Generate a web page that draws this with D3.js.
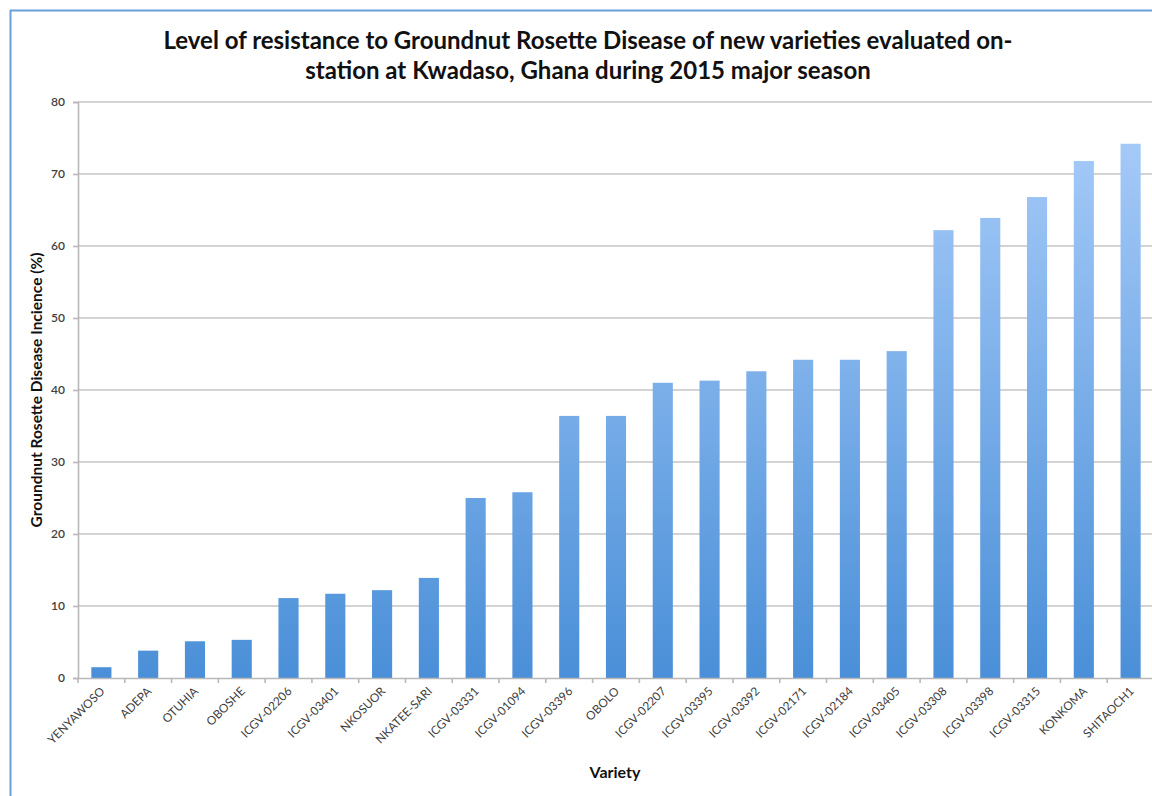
<!DOCTYPE html>
<html>
<head>
<meta charset="utf-8">
<script src="https://cdn.jsdelivr.net/npm/d3@7"></script>
<style>
  html, body { margin: 0; padding: 0; background: #fff; }
  svg { display: block; }
</style>
</head>
<body>
<svg id="chart" width="1152" height="796"></svg>
<script>
const categories = ["YENYAWOSO", "ADEPA", "OTUHIA", "OBOSHE", "ICGV-02206", "ICGV-03401", "NKOSUOR", "NKATEE-SARI",
  "ICGV-03331", "ICGV-01094", "ICGV-03396", "OBOLO", "ICGV-02207", "ICGV-03395", "ICGV-03392", "ICGV-02171",
  "ICGV-02184", "ICGV-03405", "ICGV-03308", "ICGV-03398", "ICGV-03315", "KONKOMA", "SHITAOCH1"];
const incidence = [1.5, 3.8, 5.1, 5.3, 11.1, 11.7, 12.2, 13.9,
  25.0, 25.8, 36.4, 36.4, 41.0, 41.3, 42.6, 44.2,
  44.2, 45.4, 62.2, 63.9, 66.8, 71.8, 74.2];
const yTicks = [0, 10, 20, 30, 40, 50, 60, 70, 80];
const titleLines = ["Level of resistance to Groundnut Rosette Disease of new varieties evaluated on-",
  "station at Kwadaso, Ghana during 2015 major season"];
const yTitle = "Groundnut Rosette Disease Incience (%)";
const xTitle = "Variety";

const svg = d3.select("#chart");
const font = "Lato, 'Open Sans', sans-serif";
const plotLeft = 78, plotRight = 1154, plotTop = 102, plotBottom = 678;

// outer border (left/top only visible)
svg.append("line").attr("x1", 10.5).attr("x2", 10.5).attr("y1", 10).attr("y2", 796)
  .attr("stroke", "#6a9fd8").attr("stroke-width", 2);
svg.append("line").attr("x1", 10).attr("x2", 1152).attr("y1", 10.5).attr("y2", 10.5)
  .attr("stroke", "#6a9fd8").attr("stroke-width", 2);

const x = d3.scaleBand().domain(categories).range([plotLeft, plotRight]).paddingInner(0.57).paddingOuter(0.285);
const xOuter = d3.scaleBand().domain(categories).range([plotLeft, plotRight]);
const y = d3.scaleLinear().domain([0, 80]).range([plotBottom, plotTop]);

// gradient
const defs = svg.append("defs");
const grad = defs.append("linearGradient").attr("id", "barGrad")
  .attr("gradientUnits", "userSpaceOnUse")
  .attr("x1", 0).attr("x2", 0).attr("y1", y(80)).attr("y2", y(0));
grad.append("stop").attr("offset", "0%").attr("stop-color", "#abcefa");
grad.append("stop").attr("offset", "100%").attr("stop-color", "#4a8fd8");

// gridlines
svg.append("g").selectAll("line").data(yTicks.filter(d => d > 0)).join("line")
  .attr("x1", plotLeft).attr("x2", plotRight)
  .attr("y1", d => y(d)).attr("y2", d => y(d))
  .attr("stroke", "#c4c4c4").attr("stroke-width", 1.6);

// bars
svg.append("g").selectAll("rect").data(categories).join("rect")
  .attr("x", d => x(d))
  .attr("width", x.bandwidth())
  .attr("y", (d, i) => y(incidence[i]))
  .attr("height", (d, i) => y(0) - y(incidence[i]))
  .attr("fill", "url(#barGrad)");

// y axis
const yAxis = svg.append("g").attr("transform", `translate(${plotLeft},0)`)
  .call(d3.axisLeft(y).tickValues(yTicks).tickSize(5).tickPadding(8));
yAxis.select(".domain").attr("stroke", "#b8b8b8").attr("stroke-width", 1.6);
yAxis.selectAll(".tick line").attr("stroke", "#b8b8b8").attr("stroke-width", 1.6);
yAxis.selectAll(".tick text").attr("font-family", font).attr("font-size", 12)
  .attr("fill", "#404040").attr("font-weight", 600);

// x axis
const xAxis = svg.append("g").attr("transform", `translate(0,${plotBottom})`)
  .call(d3.axisBottom(xOuter).tickSize(0).tickFormat(""));
xAxis.select(".domain").attr("stroke", "#b8b8b8").attr("stroke-width", 1.6);
// tick marks at category boundaries
svg.append("g").selectAll("line").data(categories).join("line")
  .attr("x1", d => xOuter(d)).attr("x2", d => xOuter(d))
  .attr("y1", plotBottom).attr("y2", plotBottom + 5)
  .attr("stroke", "#b8b8b8").attr("stroke-width", 1.6);

// x labels rotated
svg.append("g").selectAll("text").data(categories).join("text")
  .attr("transform", d => `translate(${x(d) + x.bandwidth() / 2 + 4},${plotBottom + 14}) rotate(-45)`)
  .attr("text-anchor", "end")
  .attr("font-family", font).attr("font-size", 11.8)
  .attr("fill", "#404040")
  .text(d => d);

// title
svg.append("g").selectAll("text").data(titleLines).join("text")
  .attr("x", 588).attr("y", (d, i) => 49 + i * 30)
  .attr("text-anchor", "middle")
  .attr("font-family", font).attr("font-size", 24).attr("font-weight", 700)
  .attr("fill", "#111")
  .text(d => d);

// axis titles
svg.append("text")
  .attr("transform", `translate(42,${(plotTop + plotBottom) / 2}) rotate(-90)`)
  .attr("text-anchor", "middle")
  .attr("font-family", font).attr("font-size", 15.5).attr("font-weight", 700)
  .attr("fill", "#111")
  .text(yTitle);
svg.append("text")
  .attr("x", 615).attr("y", 778)
  .attr("text-anchor", "middle")
  .attr("font-family", font).attr("font-size", 16).attr("font-weight", 700)
  .attr("fill", "#111")
  .text(xTitle);
</script>
</body>
</html>
